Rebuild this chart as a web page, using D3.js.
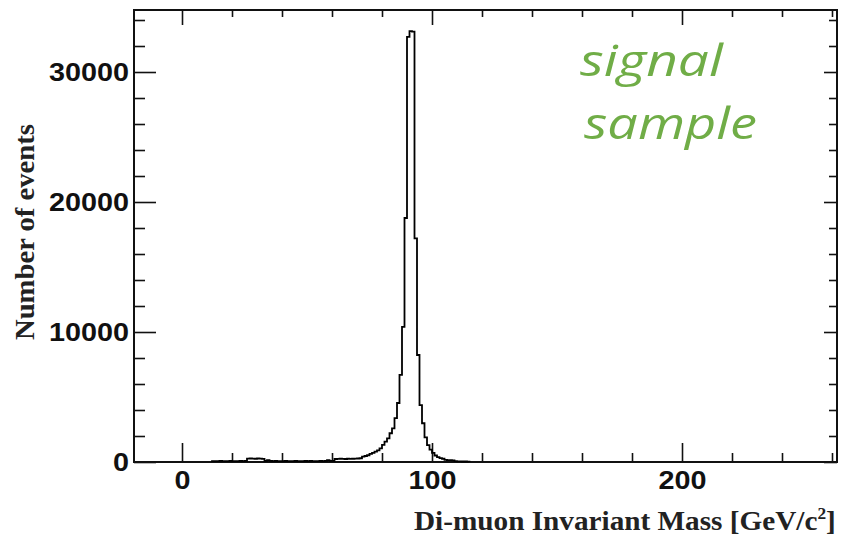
<!DOCTYPE html>
<html>
<head>
<meta charset="utf-8">
<script src="https://cdn.jsdelivr.net/npm/d3@7"></script>
<style>
  html, body { margin: 0; padding: 0; background: #fff; }
  svg { display: block; }
</style>
</head>
<body>
<svg id="chart" width="841" height="539"></svg>
<script>
// Di-muon invariant mass spectrum, 1 GeV/c^2 bins (lower bin edges)
const massLow = [
  12, 13, 14, 15, 16, 17, 18, 19, 20, 21, 22, 23, 24, 25,
  26, 27, 28, 29, 30, 31, 32,
  33, 34, 35, 36, 37, 38, 39, 40, 41, 42, 43, 44, 45, 46, 47, 48, 49, 50,
  51, 52, 53, 54, 55, 56, 57, 58, 59, 60,
  61, 62, 63, 64, 65, 66, 67, 68, 69, 70,
  71, 72, 73, 74, 75, 76, 77, 78, 79, 80, 81, 82, 83, 84, 85, 86, 87, 88, 89,
  90, 91, 92, 93, 94, 95, 96, 97, 98, 99, 100, 101, 102, 103, 104,
  105, 106, 107, 108, 109, 110, 111, 112, 113, 114
];
const binWidth = 1;

// Events per bin
const events = [
  60, 70, 70, 80, 70, 60, 70, 80, 70, 60, 70, 80, 70, 90,
  260, 270, 260, 250, 270, 260, 240,
  90, 150, 80, 70, 80, 70, 60, 70, 80, 70, 60, 70, 80, 70, 60, 70, 80, 70,
  80, 70, 60, 70, 80, 70, 80, 150, 90, 80,
  230, 240, 250, 240, 230, 250, 240, 250, 260, 270,
  290, 410, 460, 520, 620, 700, 800, 900, 1050, 1310, 1560, 1820, 2210, 2590, 3380, 4540, 6700, 10400, 18770,
  32700, 33150, 33100, 17200, 8230, 4380, 2980, 1900, 1300, 950, 700, 500, 380, 300, 250,
  170, 150, 150, 130, 60, 50, 50, 40, 40, 30
];

// Axis ticks
const xMajorTicks = [0, 100, 200];
const xMinorTicks = [20, 40, 60, 80, 120, 140, 160, 180, 220, 240, 260];
const yMajorTicks = [0, 10000, 20000, 30000];
const yMinorTicks = [2000, 4000, 6000, 8000, 12000, 14000, 16000, 18000,
                     22000, 24000, 26000, 28000, 32000, 34000];

// Texts
const xTitle = "Di-muon Invariant Mass [GeV/c";
const xTitleSup = "2";
const xTitleEnd = "]";
const yTitle = "Number of events";
const noteLines = ["signal", "sample"];

// ---------------------------------------------------------------
const svg = d3.select("#chart");
const frame = { left: 134, right: 837, top: 10, bottom: 462 };

const x = d3.scaleLinear().domain([-19.2, 262]).range([frame.left, frame.right]);
const y = d3.scaleLinear().domain([0, 34770]).range([frame.bottom, frame.top]);

const ink = "#111";
const labelFont = "'Liberation Sans', Arial, Helvetica, sans-serif";
const titleFont = "'Liberation Serif', 'Times New Roman', Times, serif";

function styleTicks(g) {
  g.select(".domain").remove();
  g.selectAll(".tick line").attr("stroke", ink).attr("stroke-width", 1.6);
}
function styleLabels(g) {
  g.selectAll(".tick text")
    .attr("fill", ink)
    .style("font-family", labelFont)
    .style("font-size", "26px")
    .style("font-weight", "bold")
    .attr("textLength", d => String(d).length * 16)
    .attr("lengthAdjust", "spacingAndGlyphs");
}

// Bottom axis
svg.append("g").attr("transform", `translate(0,${frame.bottom})`)
  .call(d3.axisBottom(x).tickValues(xMinorTicks).tickSize(-9).tickFormat(""))
  .call(styleTicks);
svg.append("g").attr("transform", `translate(0,${frame.bottom})`)
  .call(d3.axisBottom(x).tickValues(xMajorTicks).tickSize(-19).tickPadding(9).tickFormat(d3.format("d")))
  .call(styleTicks).call(styleLabels);

// Top axis (ticks only)
svg.append("g").attr("transform", `translate(0,${frame.top})`)
  .call(d3.axisTop(x).tickValues(xMinorTicks).tickSize(-7).tickFormat(""))
  .call(styleTicks);
svg.append("g").attr("transform", `translate(0,${frame.top})`)
  .call(d3.axisTop(x).tickValues(xMajorTicks).tickSize(-15).tickFormat(""))
  .call(styleTicks);

// Left axis
svg.append("g").attr("transform", `translate(${frame.left},0)`)
  .call(d3.axisLeft(y).tickValues(yMinorTicks).tickSize(-11).tickFormat(""))
  .call(styleTicks);
svg.append("g").attr("transform", `translate(${frame.left},0)`)
  .call(d3.axisLeft(y).tickValues(yMajorTicks).tickSize(-22).tickPadding(5).tickFormat(d3.format("d")))
  .call(styleTicks).call(styleLabels);

// Right axis (ticks only)
svg.append("g").attr("transform", `translate(${frame.right},0)`)
  .call(d3.axisRight(y).tickValues(yMinorTicks).tickSize(-8).tickFormat(""))
  .call(styleTicks);
svg.append("g").attr("transform", `translate(${frame.right},0)`)
  .call(d3.axisRight(y).tickValues(yMajorTicks).tickSize(-13).tickFormat(""))
  .call(styleTicks);

// Frame
svg.append("rect")
  .attr("x", frame.left).attr("y", frame.top)
  .attr("width", frame.right - frame.left).attr("height", frame.bottom - frame.top)
  .attr("fill", "none").attr("stroke", ink).attr("stroke-width", 2);

// Histogram outline (step line)
const pts = [[massLow[0], 0]];
massLow.forEach((m, i) => pts.push([m, events[i]]));
pts.push([massLow[massLow.length - 1] + binWidth, 0]);

svg.append("path")
  .datum(pts)
  .attr("fill", "none")
  .attr("stroke", "#000")
  .attr("stroke-width", 1.8)
  .attr("stroke-linejoin", "miter")
  .attr("d", d3.line().x(d => x(d[0])).y(d => y(d[1])).curve(d3.curveStepAfter));

// Stretch a text element horizontally so it spans [x0, x1]
function fitX(sel, x0, x1) {
  const b = sel.node().getBBox();
  const sx = (x1 - x0) / b.width;
  sel.attr("transform", `translate(${x0},0) scale(${sx},1) translate(${-b.x},0)`);
}

// X axis title
const xt = svg.append("text")
  .attr("x", 0).attr("y", 530)
  .attr("fill", "#222")
  .style("font-family", titleFont)
  .style("font-size", "27px")
  .style("font-weight", "bold");
xt.append("tspan").text(xTitle);
xt.append("tspan").attr("dy", -11).style("font-size", "16px").text(xTitleSup);
xt.append("tspan").attr("dy", 11).text(xTitleEnd);
fitX(xt, 414, 836);

// Y axis title
const ytG = svg.append("g").attr("transform", "translate(34,232) rotate(-90)");
const yt = ytG.append("text")
  .attr("x", 0).attr("y", 0)
  .attr("fill", "#222")
  .style("font-family", titleFont)
  .style("font-size", "27px")
  .style("font-weight", "bold")
  .text(yTitle);
fitX(yt, -108, 108);

// Annotation
const noteSpec = [
  { text: noteLines[0], x0: 580, x1: 724, base: 76 },
  { text: noteLines[1], x0: 584, x1: 757, base: 139 }
];
noteSpec.forEach(n => {
  const t = svg.append("text")
    .attr("x", 0).attr("y", n.base)
    .attr("fill", "#70ad47")
    .style("font-family", "'Open Sans', Lato, 'Noto Sans', sans-serif")
    .style("font-size", "44px")
    .style("font-weight", 400)
    .style("font-style", "italic")
    .text(n.text);
  fitX(t, n.x0, n.x1);
});
</script>
</body>
</html>
